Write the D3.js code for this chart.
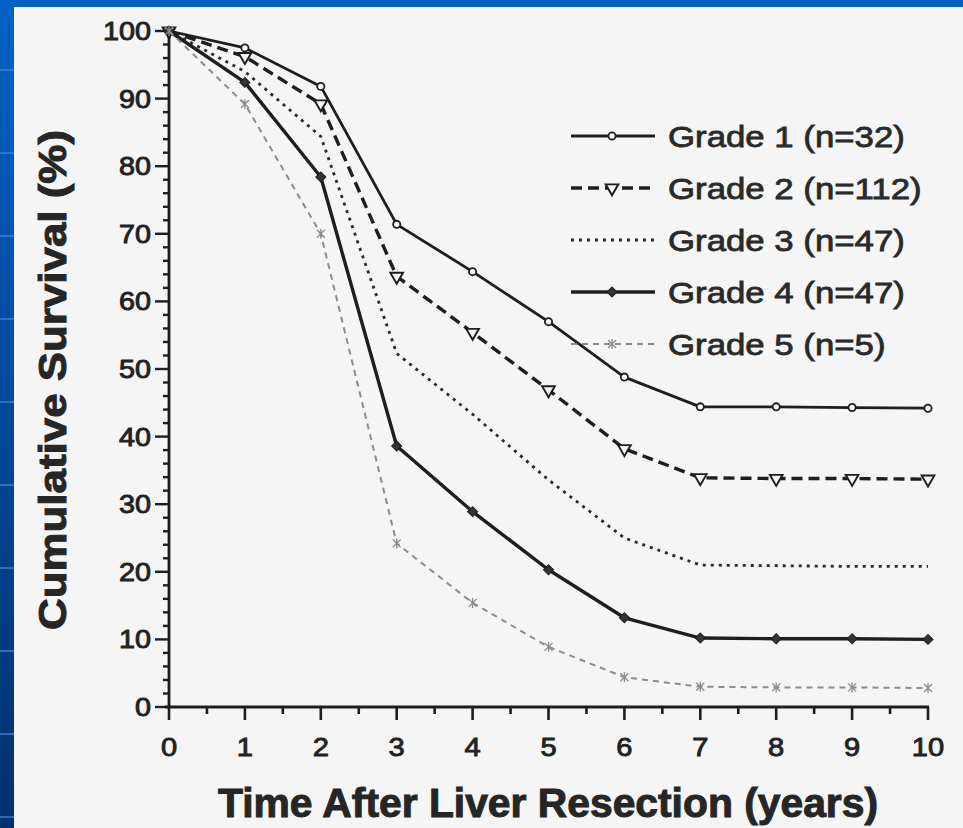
<!DOCTYPE html>
<html>
<head>
<meta charset="utf-8">
<script src="https://cdn.jsdelivr.net/npm/d3@7"></script>
<style>
  body { margin: 0; padding: 0; background: #0058b8; }
  svg { display: block; }
  text { font-family: "Liberation Sans", Arial, sans-serif; }
</style>
</head>
<body>
<svg id="chart"></svg>
<script>
const W = 963, H = 828;

// values
const years = [0, 1, 2, 3, 4, 5, 6, 7, 8, 9, 10];
const grade1 = [100, 97.5, 91.8, 71.4, 64.4, 57.0, 48.8, 44.4, 44.4, 44.3, 44.2];
const grade2 = [100, 96.2, 89.2, 63.7, 55.4, 46.9, 38.2, 33.9, 33.8, 33.8, 33.7];
const grade3 = [100, 94.0, 84.4, 52.3, 43.3, 33.6, 25.0, 21.0, 20.9, 20.8, 20.8];
const grade4 = [100, 92.4, 78.4, 38.6, 28.9, 20.3, 13.2, 10.2, 10.1, 10.1, 10.0];
const grade5 = [100, 89.2, 70.0, 24.2, 15.4, 8.9, 4.4, 3.0, 2.9, 2.9, 2.8];
const legendLabels = ["Grade 1 (n=32)", "Grade 2 (n=112)", "Grade 3 (n=47)", "Grade 4 (n=47)", "Grade 5 (n=5)"];
const yTicks = [0, 10, 20, 30, 40, 50, 60, 70, 80, 90, 100];
const xTicks = [0, 1, 2, 3, 4, 5, 6, 7, 8, 9, 10];

const svg = d3.select("#chart").attr("width", W).attr("height", H);

// slide background
const defs = svg.append("defs");
const grad = defs.append("linearGradient").attr("id", "bg")
    .attr("x1", 0).attr("y1", 0).attr("x2", 0).attr("y2", 1);
grad.append("stop").attr("offset", "0%").attr("stop-color", "#0062c4");
grad.append("stop").attr("offset", "100%").attr("stop-color", "#00306e");
svg.append("rect").attr("width", W).attr("height", H).attr("fill", "url(#bg)");
svg.selectAll(".stripe")
    .data(d3.range(70, H, 83))
    .enter().append("line")
    .attr("x1", 0).attr("x2", 14)
    .attr("y1", d => d).attr("y2", d => d)
    .attr("stroke", "#3c7fd0").attr("stroke-width", 1.5);
svg.append("rect").attr("x", 14).attr("y", 7)
    .attr("width", W - 14).attr("height", H - 7).attr("fill", "#f5f5f5");

const x = d3.scaleLinear().domain([0, 10]).range([169, 928]);
const y = d3.scaleLinear().domain([0, 100]).range([707, 31]);

const ink = "#1e1e1e";

// axes
const axes = svg.append("g");
axes.append("line").attr("x1", x(0) - 4).attr("x2", x(10) + 1)
    .attr("y1", y(0)).attr("y2", y(0)).attr("stroke", ink).attr("stroke-width", 2.8);
axes.append("line").attr("x1", x(0)).attr("x2", x(0))
    .attr("y1", y(100)).attr("y2", y(0)).attr("stroke", ink).attr("stroke-width", 2.8);

// y ticks: major every 10, minor every 2
axes.selectAll(".ymin")
    .data(d3.range(0, 101, 2))
    .enter().append("line")
    .attr("x1", d => x(0) - (d % 10 === 0 ? 14 : 6))
    .attr("x2", x(0))
    .attr("y1", d => y(d)).attr("y2", d => y(d))
    .attr("stroke", ink).attr("stroke-width", 2.4);

axes.selectAll(".ylab")
    .data(yTicks)
    .enter().append("text")
    .attr("transform", d => `translate(${x(0) - 18},${y(d) + 9}) scale(1.15,1)`)
    .attr("text-anchor", "end")
    .attr("font-size", 25)
    .attr("fill", "#222")
    .attr("stroke", "#222").attr("stroke-width", 0.9)
    .text(d => d);

// x ticks: major every year, minor every half year
axes.selectAll(".xmin")
    .data(d3.range(0, 10.01, 0.5))
    .enter().append("line")
    .attr("x1", d => x(d)).attr("x2", d => x(d))
    .attr("y1", y(0))
    .attr("y2", d => y(0) + (d % 1 === 0 ? 13 : 7))
    .attr("stroke", ink).attr("stroke-width", 2.6);

axes.selectAll(".xlab")
    .data(xTicks)
    .enter().append("text")
    .attr("transform", d => `translate(${x(d)},${y(0) + 49}) scale(1.12,1)`)
    .attr("text-anchor", "middle")
    .attr("font-size", 26)
    .attr("fill", "#222")
    .attr("stroke", "#222").attr("stroke-width", 0.9)
    .text(d => d);

// axis titles
svg.append("text")
    .attr("x", 548).attr("y", 817)
    .attr("text-anchor", "middle")
    .attr("font-size", 40).attr("font-weight", "bold")
    .attr("fill", "#262626")
    .attr("stroke", "#262626").attr("stroke-width", 1)
    .attr("textLength", 660).attr("lengthAdjust", "spacingAndGlyphs")
    .text("Time After Liver Resection (years)");

svg.append("text")
    .attr("transform", "translate(66,380) rotate(-90)")
    .attr("text-anchor", "middle")
    .attr("font-size", 39).attr("font-weight", "bold")
    .attr("fill", "#262626")
    .attr("stroke", "#262626").attr("stroke-width", 1)
    .attr("textLength", 500).attr("lengthAdjust", "spacingAndGlyphs")
    .text("Cumulative Survival (%)");

// series definitions
const series = [
    { name: legendLabels[0], values: grade1, color: ink, width: 2.8, dash: null, marker: "circle" },
    { name: legendLabels[1], values: grade2, color: ink, width: 3.4, dash: "11,6", marker: "triangle" },
    { name: legendLabels[2], values: grade3, color: "#2a2a2a", width: 2.8, dash: "3,5", marker: null },
    { name: legendLabels[3], values: grade4, color: ink, width: 3.4, dash: null, marker: "diamond" },
    { name: legendLabels[4], values: grade5, color: "#8c8c8c", width: 2, dash: "6,5", marker: "x" }
];

const line = d3.line()
    .x(d => x(d[0]))
    .y(d => y(d[1]));

function drawMarker(g, type, px, py, color) {
    if (type === "circle") {
        g.append("circle").attr("cx", px).attr("cy", py).attr("r", 3.6)
            .attr("fill", "#f5f5f5").attr("stroke", color).attr("stroke-width", 1.8);
    } else if (type === "triangle") {
        g.append("path")
            .attr("d", d3.symbol().type(d3.symbolTriangle).size(70)())
            .attr("transform", `translate(${px},${py}) rotate(180)`)
            .attr("fill", "#f5f5f5").attr("stroke", color).attr("stroke-width", 1.9);
    } else if (type === "diamond") {
        g.append("path")
            .attr("d", d3.symbol().type(d3.symbolSquare).size(50)())
            .attr("transform", `translate(${px},${py}) rotate(45)`)
            .attr("fill", "#333").attr("stroke", color).attr("stroke-width", 1);
    } else if (type === "x") {
        g.append("path")
            .attr("d", "M-4,-4L4,4M-4,4L4,-4M0,-5L0,5")
            .attr("transform", `translate(${px},${py})`)
            .attr("fill", "none").attr("stroke", color).attr("stroke-width", 1.3);
    }
}

const plot = svg.append("g");
series.forEach(function (s) {
    const pts = years.map((t, i) => [t, s.values[i]]);
    plot.append("path")
        .datum(pts)
        .attr("d", line)
        .attr("fill", "none")
        .attr("stroke", s.color)
        .attr("stroke-width", s.width)
        .attr("stroke-dasharray", s.dash)
        .attr("stroke-linejoin", "round");
    if (s.marker) {
        pts.forEach(p => drawMarker(plot, s.marker, x(p[0]), y(p[1]), s.color));
    }
});

// legend
const legend = svg.append("g");
const rowY = [136, 188, 240, 292, 344];
series.forEach(function (s, i) {
    const ly = rowY[i];
    legend.append("line")
        .attr("x1", 571).attr("x2", 655)
        .attr("y1", ly).attr("y2", ly)
        .attr("stroke", s.color)
        .attr("stroke-width", s.width)
        .attr("stroke-dasharray", s.dash);
    if (s.marker) drawMarker(legend, s.marker, 612, ly, s.color);
    legend.append("text")
        .attr("transform", `translate(668,${ly + 11}) scale(1.16,1)`)
        .attr("font-size", 30)
        .attr("fill", "#2a2a2a")
        .attr("stroke", "#2a2a2a").attr("stroke-width", 0.8)
        .text(s.name);
});
</script>
</body>
</html>
